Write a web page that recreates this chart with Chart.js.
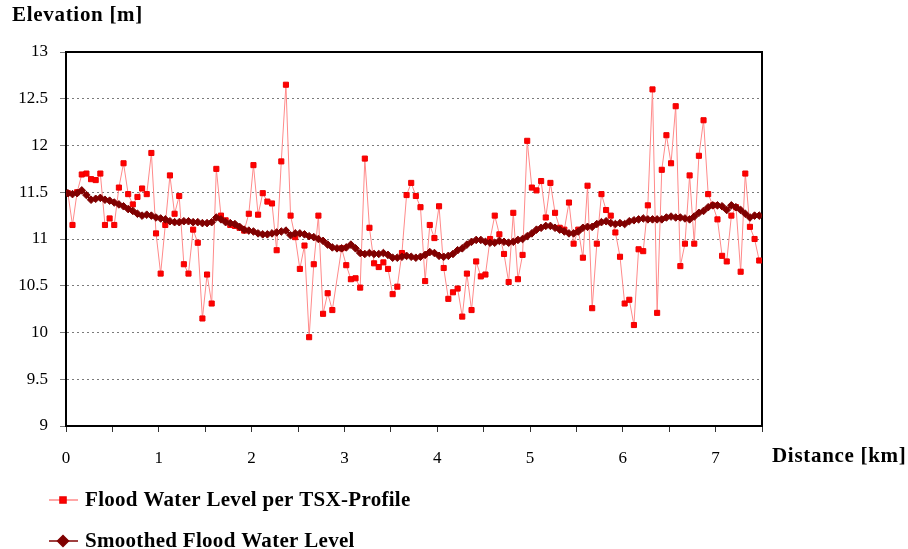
<!DOCTYPE html>
<html>
<head>
<meta charset="utf-8">
<script src="https://cdn.jsdelivr.net/npm/chart.js@4/dist/chart.umd.min.js"></script>
<style>
  html, body { margin: 0; padding: 0; background: #fff; }
  #chart { display: block; }
</style>
</head>
<body>
<canvas id="chart" width="908" height="549"></canvas>
<script>
// distance along the profile [km], one sample every 50 m
var distanceKm = [
  0.02, 0.07, 0.12, 0.17, 0.22, 0.27, 0.32, 0.37, 0.42, 0.47,
  0.52, 0.57, 0.62, 0.67, 0.72, 0.77, 0.82, 0.87, 0.92, 0.97,
  1.02, 1.07, 1.12, 1.17, 1.22, 1.27, 1.32, 1.37, 1.42, 1.47,
  1.52, 1.57, 1.62, 1.67, 1.72, 1.77, 1.82, 1.87, 1.92, 1.97,
  2.02, 2.07, 2.12, 2.17, 2.22, 2.27, 2.32, 2.37, 2.42, 2.47,
  2.52, 2.57, 2.62, 2.67, 2.72, 2.77, 2.82, 2.87, 2.92, 2.97,
  3.02, 3.07, 3.12, 3.17, 3.22, 3.27, 3.32, 3.37, 3.42, 3.47,
  3.52, 3.57, 3.62, 3.67, 3.72, 3.77, 3.82, 3.87, 3.92, 3.97,
  4.02, 4.07, 4.12, 4.17, 4.22, 4.27, 4.32, 4.37, 4.42, 4.47,
  4.52, 4.57, 4.62, 4.67, 4.72, 4.77, 4.82, 4.87, 4.92, 4.97,
  5.02, 5.07, 5.12, 5.17, 5.22, 5.27, 5.32, 5.37, 5.42, 5.47,
  5.52, 5.57, 5.62, 5.67, 5.72, 5.77, 5.82, 5.87, 5.92, 5.97,
  6.02, 6.07, 6.12, 6.17, 6.22, 6.27, 6.32, 6.37, 6.42, 6.47,
  6.52, 6.57, 6.62, 6.67, 6.72, 6.77, 6.82, 6.87, 6.92, 6.97,
  7.02, 7.07, 7.12, 7.17, 7.22, 7.27, 7.32, 7.37, 7.42, 7.47
];

// flood water level per TSX profile [m]
var floodLevel = [
  11.49, 11.15, 11.50, 11.69, 11.70, 11.64, 11.63, 11.70, 11.15, 11.22,
  11.15, 11.55, 11.81, 11.48, 11.37, 11.45, 11.54, 11.48, 11.92, 11.06,
  10.63, 11.15, 11.68, 11.27, 11.46, 10.73, 10.63, 11.10, 10.96, 10.15,
  10.62, 10.31, 11.75, 11.25, 11.20, 11.15, 11.14, 11.12, 11.09, 11.27,
  11.79, 11.26, 11.49, 11.40, 11.38, 10.88, 11.83, 12.65, 11.25, 11.02,
  10.68, 10.93, 9.95, 10.73, 11.25, 10.20, 10.42, 10.24, null, 10.90,
  10.72, 10.57, 10.58, 10.48, 11.86, 11.12, 10.74, 10.70, 10.75, 10.68,
  10.41, 10.49, 10.85, 11.47, 11.60, 11.46, 11.34, 10.55, 11.15, 11.01,
  11.35, 10.69, 10.36, 10.43, 10.47, 10.17, 10.63, 10.24, 10.76, 10.60,
  10.62, 11.00, 11.25, 11.05, 10.84, 10.54, 11.28, 10.57, 10.83, 12.05,
  11.55, 11.52, 11.62, 11.23, 11.60, 11.28, 11.12, 11.10, 11.39, 10.95,
  11.10, 10.80, 11.57, 10.26, 10.95, 11.48, 11.31, 11.25, 11.07, 10.81,
  10.31, 10.35, 10.08, 10.89, 10.87, 11.36, 12.60, 10.21, 11.74, 12.11,
  11.81, 12.42, 10.71, 10.95, 11.68, 10.95, 11.89, 12.27, 11.48, 11.36,
  11.21, 10.82, 10.76, 11.25, 11.34, 10.65, 11.70, 11.13, 11.00, 10.77
];

// smoothed flood water level [m]
var smoothedLevel = [
  11.49, 11.48, 11.49, 11.52, 11.47, 11.42, 11.43, 11.44, 11.42, 11.41,
  11.39, 11.37, 11.35, 11.32, 11.30, 11.27, 11.25, 11.26, 11.25, 11.23,
  11.22, 11.21, 11.19, 11.18, 11.18, 11.19, 11.19, 11.18, 11.18, 11.17,
  11.17, 11.18, 11.23, 11.21, 11.18, 11.17, 11.16, 11.13, 11.10, 11.09,
  11.08, 11.06, 11.05, 11.05, 11.06, 11.07, 11.08, 11.09, 11.04, 11.06,
  11.06, 11.05, 11.03, 11.02, 11.00, 10.98, 10.94, 10.91, 10.90, 10.90,
  10.91, 10.94, 10.90, 10.85, 10.84, 10.85, 10.84, 10.84, 10.85, 10.83,
  10.80, 10.80, 10.81, 10.82, 10.81, 10.80, 10.81, 10.83, 10.86, 10.85,
  10.82, 10.81, 10.82, 10.84, 10.88, 10.90, 10.94, 10.97, 10.99, 10.99,
  10.97, 10.96, 10.96, 10.98, 10.97, 10.96, 10.97, 10.99, 11.00, 11.03,
  11.06, 11.10, 11.12, 11.14, 11.14, 11.12, 11.10, 11.08, 11.06, 11.06,
  11.08, 11.12, 11.13, 11.13, 11.16, 11.18, 11.19, 11.17, 11.16, 11.17,
  11.16, 11.19, 11.20, 11.21, 11.22, 11.21, 11.21, 11.21, 11.21, 11.23,
  11.24, 11.23, 11.23, 11.22, 11.21, 11.24, 11.28, 11.30, 11.34, 11.36,
  11.36, 11.35, 11.31, 11.36, 11.34, 11.31, 11.27, 11.23, 11.25, 11.25
];

var yTitle = 'Elevation [m]';
var xTitle = 'Distance [km]';
var FONT = "'Liberation Serif', 'DejaVu Serif', serif";

function toPoints(values) {
    return values.map(function(v, i) { return { x: distanceKm[i], y: v }; });
}

// frame round the plot, axis titles and the stacked legend below
var decorPlugin = {
    id: 'decor',
    beforeDatasetsDraw: function(chart) {
        var ctx = chart.ctx, a = chart.chartArea;
        ctx.save();
        ctx.strokeStyle = '#000';
        ctx.lineWidth = 2;
        ctx.strokeRect(a.left, a.top, a.right - a.left, a.bottom - a.top);
        ctx.restore();
    },
    afterDraw: function(chart) {
        var ctx = chart.ctx, a = chart.chartArea;
        ctx.save();
        ctx.fillStyle = '#000';
        ctx.font = 'bold 21px ' + FONT;
        ctx.textBaseline = 'middle';
        ctx.textAlign = 'left';
        ctx.letterSpacing = '0.7px';
        ctx.fillText(yTitle, 12, 16);
        ctx.fillText(xTitle, a.right + 10, a.bottom + 31);

        ctx.letterSpacing = '0.3px';
        var rows = [
            { ds: chart.data.datasets[0], y: 500 },
            { ds: chart.data.datasets[1], y: 541 }
        ];
        rows.forEach(function(r) {
            var ds = r.ds;
            ctx.strokeStyle = ds.borderColor;
            ctx.lineWidth = 1.5;
            ctx.beginPath();
            ctx.moveTo(49, r.y);
            ctx.lineTo(78, r.y);
            ctx.stroke();
            ctx.fillStyle = ds.pointBackgroundColor;
            ctx.strokeStyle = ds.pointBorderColor;
            Chart.helpers.drawPoint(ctx, {
                pointStyle: ds.pointStyle,
                radius: ds.pointStyle === 'rect' ? 4.3 : 5.5,
                rotation: 0,
                borderWidth: 1
            }, 63, r.y);
            ctx.fillStyle = '#000';
            ctx.fillText(ds.label, 85, r.y + 1);
        });
        ctx.restore();
    }
};

var ctx = document.getElementById('chart').getContext('2d');
new Chart(ctx, {
    type: 'line',
    data: {
        datasets: [{
            label: 'Flood Water Level per TSX-Profile',
            data: toPoints(floodLevel),
            borderColor: '#ff8a8a',
            borderWidth: 1,
            pointStyle: 'rect',
            pointRadius: 3.6,
            pointBackgroundColor: '#ff0000',
            pointBorderColor: '#ee0000',
            pointBorderWidth: 1,
            spanGaps: true,
            tension: 0,
            order: 2
        }, {
            label: 'Smoothed Flood Water Level',
            data: toPoints(smoothedLevel),
            borderColor: '#800000',
            borderWidth: 2,
            pointStyle: 'rectRot',
            pointRadius: 3.8,
            pointBackgroundColor: '#800000',
            pointBorderColor: '#800000',
            pointBorderWidth: 1,
            tension: 0,
            order: 1
        }]
    },
    options: {
        responsive: false,
        animation: false,
        devicePixelRatio: 1,
        layout: { padding: { left: 0, top: 52, right: 146, bottom: 73 } },
        plugins: {
            legend: { display: false },
            tooltip: { enabled: false },
            title: { display: false }
        },
        scales: {
            x: {
                type: 'linear',
                min: 0,
                max: 7.5,
                grid: {
                    drawOnChartArea: false,
                    drawTicks: true,
                    tickLength: 6,
                    tickColor: '#333'
                },
                border: { color: '#000', width: 2 },
                ticks: {
                    stepSize: 0.5,
                    autoSkip: false,
                    maxRotation: 0,
                    padding: 16,
                    color: '#000',
                    font: { family: FONT, size: 17 },
                    callback: function(v) {
                        return Math.abs(v - Math.round(v)) < 1e-6 ? Math.round(v) : '';
                    }
                },
                afterFit: function(scale) { scale.height = 50; }
            },
            y: {
                min: 9,
                max: 13,
                grid: {
                    color: '#7a7a7a',
                    lineWidth: 1,
                    tickLength: 6,
                    tickColor: '#7a7a7a',
                    tickBorderDash: []
                },
                border: { color: '#000', width: 2, dash: [2, 3] },
                ticks: {
                    stepSize: 0.5,
                    padding: 12,
                    color: '#000',
                    font: { family: FONT, size: 17 },
                    callback: function(v) { return String(Math.round(v * 10) / 10); }
                },
                afterFit: function(scale) { scale.width = 66; }
            }
        }
    },
    plugins: [decorPlugin]
});
</script>
</body>
</html>
